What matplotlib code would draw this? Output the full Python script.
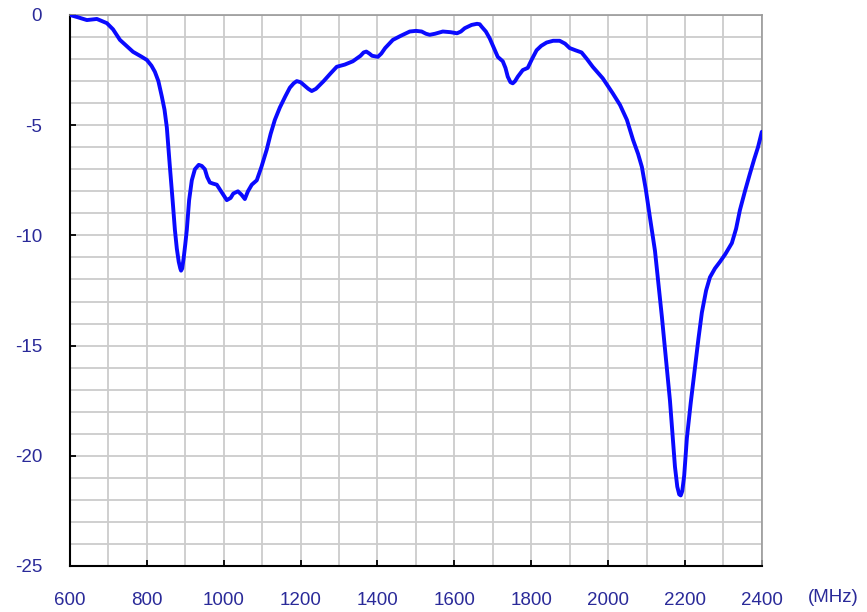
import matplotlib
matplotlib.use("Agg")
import matplotlib.pyplot as plt
from matplotlib.ticker import MultipleLocator

# frequency (MHz) and return loss (dB)
freq_mhz = [600, 620, 644, 670, 696, 712, 730, 764, 785, 800, 812, 821, 830,
            839, 846, 852, 860, 867, 873, 878, 883, 887, 889, 892, 896, 900,
            904, 910, 917, 925, 935, 943, 951, 957, 964, 972, 982, 995, 1008,
            1018, 1025, 1037, 1046, 1055, 1063, 1073, 1086, 1098, 1112, 1122,
            1133, 1146, 1160, 1172, 1182, 1190, 1200, 1210, 1220, 1229, 1240,
            1260, 1278, 1294, 1315, 1336, 1356, 1364, 1371, 1379, 1386, 1401,
            1410, 1420, 1440, 1460, 1484, 1500, 1515, 1526, 1536, 1550, 1570,
            1590, 1607, 1617, 1627, 1645, 1659, 1666, 1671, 1682, 1692, 1703,
            1713, 1726, 1733, 1739, 1746, 1752, 1758, 1765, 1778, 1791, 1802,
            1814, 1826, 1840, 1857, 1874, 1888, 1900, 1915, 1931, 1945, 1960,
            1986, 2012, 2031, 2049, 2065, 2078, 2088, 2098, 2109, 2122, 2140,
            2161, 2174, 2180, 2185, 2189, 2193, 2198, 2205, 2215, 2226, 2235,
            2244, 2255, 2265, 2278, 2291, 2305, 2322, 2333, 2343, 2356, 2369,
            2380, 2390, 2400]
loss_db = [0, -0.1, -0.23, -0.18, -0.37, -0.65, -1.13, -1.67, -1.88, -2.04,
           -2.3, -2.58, -3.0, -3.7, -4.3, -5.1, -6.9, -8.4, -9.75, -10.6,
           -11.2, -11.5, -11.6, -11.5, -11.0, -10.4, -9.75, -8.4, -7.5, -7.0,
           -6.8, -6.85, -7.0, -7.35, -7.6, -7.65, -7.7, -8.05, -8.4, -8.3,
           -8.1, -8.0, -8.15, -8.35, -8.0, -7.7, -7.5, -6.9, -6.1, -5.4, -4.76,
           -4.2, -3.7, -3.3, -3.1, -3.0, -3.05, -3.2, -3.35, -3.45, -3.35,
           -3.0, -2.65, -2.35, -2.25, -2.1, -1.85, -1.7, -1.66, -1.75, -1.85,
           -1.9, -1.75, -1.5, -1.13, -0.95, -0.75, -0.72, -0.75, -0.85, -0.9,
           -0.85, -0.75, -0.78, -0.83, -0.75, -0.6, -0.45, -0.4, -0.42, -0.53,
           -0.75, -1.06, -1.5, -1.9, -2.1, -2.4, -2.8, -3.05, -3.1, -3.0, -2.8,
           -2.5, -2.4, -2.0, -1.6, -1.4, -1.25, -1.17, -1.17, -1.3, -1.5, -1.6,
           -1.7, -2.0, -2.35, -2.87, -3.55, -4.08, -4.76, -5.67, -6.3, -6.9,
           -7.9, -9.2, -10.7, -13.7, -17.5, -20.5, -21.4, -21.75, -21.8, -21.6,
           -20.9, -19.2, -17.6, -16.0, -14.7, -13.5, -12.5, -11.9, -11.5,
           -11.2, -10.85, -10.35, -9.7, -8.85, -8.0, -7.2, -6.55, -6.0, -5.3]

x_ticks = [600, 800, 1000, 1200, 1400, 1600, 1800, 2000, 2200, 2400]
y_ticks = [0, -5, -10, -15, -20, -25]

label_color = "#2a2a99"
plt.rcParams["font.family"] = ["Liberation Sans", "DejaVu Sans"]
plt.rcParams["axes.unicode_minus"] = False

fig = plt.figure(figsize=(8.67, 6.12), dpi=100)
ax = fig.add_axes([0.0807, 0.0752, 0.798, 0.9003])

ax.plot(freq_mhz, loss_db, color="#0a0aff", linewidth=2.8,
        solid_joinstyle="round", solid_capstyle="round", zorder=3)

ax.set_xlim(600, 2400)
ax.set_ylim(-25, 0)
ax.set_xticks(x_ticks)
ax.set_yticks(y_ticks)
ax.xaxis.set_minor_locator(MultipleLocator(100))
ax.yaxis.set_minor_locator(MultipleLocator(1))
ax.grid(True, which="both", color="#cccccc", linewidth=1.3, zorder=0)
ax.set_axisbelow(True)

ax.tick_params(axis="both", which="major", direction="in", length=4,
               width=1.3, colors="black", labelcolor=label_color,
               labelsize=13.5)
ax.tick_params(axis="y", which="major", pad=20)
ax.tick_params(axis="x", which="major", pad=18.5)
ax.tick_params(axis="both", which="minor", length=0)

for side in ["left", "bottom"]:
    ax.spines[side].set_color("black")
    ax.spines[side].set_linewidth(1.5)
for side in ["top", "right"]:
    ax.spines[side].set_color("#999999")
    ax.spines[side].set_linewidth(1.2)

ax.text(1.066, -0.058, "(MHz)", transform=ax.transAxes, color=label_color,
        fontsize=13.5, ha="left", va="center")

fig.savefig("out.png", dpi=100)
